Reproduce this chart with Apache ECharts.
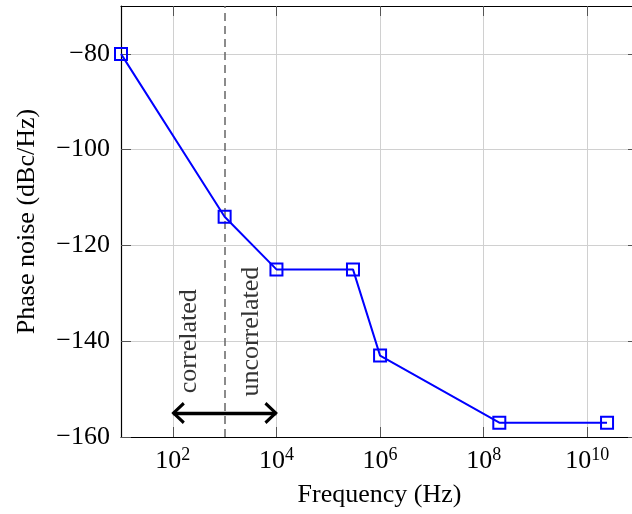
<!DOCTYPE html>
<html><head><meta charset="utf-8">
<script src="https://cdn.jsdelivr.net/npm/echarts@6/dist/echarts.min.js"></script>
<style>html,body{margin:0;padding:0;background:#fff}#c{width:632px;height:514px}</style>
</head><body><div id="c"></div>
<script>
// ---- data ----
const freqHz = [10, 1e3, 1e4, 3e5, 1e6, 2e8, 2.4e10];
const phaseNoise = [-80, -114, -125, -125, -143, -157, -157];
const xTickValues = [1e2, 1e4, 1e6, 1e8, 1e10];
const yTickValues = [-160, -140, -120, -100, -80];
const xRange = [10, 9.5e10];
const yRange = [-160, -70];
const boundaryHz = 1e3;
const arrowHz = [1e2, 1e4];
const arrowDb = -155;
const noteText = ['correlated', 'uncorrelated'];
const noteHz = [206, 3200];
const noteDb = [-140, -138];

// ---- styles ----
const FONT = 'Liberation Serif';
const chevron = 'path://M10,0 L10,0 Z M10,10.5 L21,22 L18.5,24 L10,15 L1.5,24 L-1,22 Z';

const chart = echarts.init(document.getElementById('c'), null, {renderer: 'canvas'});

const xLabelFmt = v => '{b|10}{s|' + Math.round(Math.log10(v)) + '}';
const yLabelFmt = v => (v < 0 ? '\u2212' : '') + Math.abs(v);

const axisLineStyle = {color: '#000', width: 1.2};
const tickStyle = {color: '#555', width: 1};
const gridStyle = {color: '#d0d0d0', width: 1};

const baseX = {
  type: 'log', logBase: 10, min: xRange[0], max: xRange[1],
  axisLine: {show: true, onZero: false, lineStyle: axisLineStyle},
  axisTick: {show: true, inside: true, length: 10, customValues: xTickValues, lineStyle: tickStyle},
  minorTick: {show: false}, minorSplitLine: {show: false}
};
const baseY = {
  type: 'value', min: yRange[0], max: yRange[1], interval: 20,
  axisLine: {show: true, onZero: false, lineStyle: axisLineStyle},
  axisTick: {show: true, inside: true, length: 10, customValues: yTickValues, lineStyle: tickStyle}
};

chart.setOption({
  animation: false,
  backgroundColor: '#fff',
  grid: {left: 121, top: 6, width: 517, height: 431, containLabel: false, outerBoundsMode: 'none'},
  xAxis: [
    Object.assign({}, baseX, {
      position: 'bottom',
      axisLabel: {
        customValues: xTickValues, formatter: xLabelFmt, margin: 9, color: '#000',
        rich: {
          b: {fontFamily: FONT, fontSize: 26, lineHeight: 30, color: '#000'},
          s: {fontFamily: FONT, fontSize: 18, lineHeight: 18, verticalAlign: 'top', color: '#000'}
        }
      },
      splitLine: {show: true, lineStyle: gridStyle},
      name: 'Frequency (Hz)', nameLocation: 'middle', nameGap: 45,
      nameTextStyle: {fontFamily: FONT, fontSize: 26, color: '#000'}
    }),
    Object.assign({}, baseX, {
      position: 'top',
      axisLabel: {show: false},
      splitLine: {show: false}
    })
  ],
  yAxis: [
    Object.assign({}, baseY, {
      position: 'left',
      axisLabel: {customValues: yTickValues, formatter: yLabelFmt, margin: 11,
        fontFamily: FONT, fontSize: 26, color: '#000'},
      splitLine: {show: true, lineStyle: gridStyle},
      name: 'Phase noise (dBc/Hz)', nameLocation: 'middle', nameGap: 81, nameRotate: 90,
      nameTextStyle: {fontFamily: FONT, fontSize: 26, color: '#000'}
    }),
    Object.assign({}, baseY, {
      position: 'right',
      axisLabel: {show: false},
      splitLine: {show: false}
    })
  ],
  series: [
    {
      type: 'line',
      xAxisIndex: 0, yAxisIndex: 0,
      data: freqHz.map((f, i) => [f, phaseNoise[i]]),
      lineStyle: {color: '#0000ff', width: 2},
      symbol: 'rect', symbolSize: 12, showAllSymbol: true,
      itemStyle: {color: 'rgba(0,0,0,0)', borderColor: '#0000ff', borderWidth: 2},
      emphasis: {disabled: true},
      z: 5
    },
    {
      type: 'scatter',
      xAxisIndex: 0, yAxisIndex: 0,
      data: noteText.map((t, i) => ({value: [noteHz[i], noteDb[i]], name: t})),
      symbolSize: 0,
      silent: true,
      label: {
        show: true, position: 'inside', rotate: 90, formatter: p => p.name,
        fontFamily: FONT, fontSize: 26, color: '#000', align: 'center', verticalAlign: 'middle'
      },
      markLine: {
        silent: true, symbol: 'none', label: {show: false},
        lineStyle: {color: '#666', width: 1.5, type: [8, 5]},
        data: [{xAxis: boundaryHz}]
      },
      z: 3
    },
    {
      type: 'scatter',
      xAxisIndex: 0, yAxisIndex: 0,
      data: [],
      silent: true,
      markLine: {
        silent: true, symbol: [chevron, chevron], symbolSize: [22, 24],
        label: {show: false},
        lineStyle: {color: '#000', width: 3.4, type: 'solid'},
        itemStyle: {color: '#000'},
        data: [[{coord: [arrowHz[0], arrowDb]}, {coord: [arrowHz[1], arrowDb]}]]
      },
      z: 4
    }
  ]
});
</script>
</body></html>
